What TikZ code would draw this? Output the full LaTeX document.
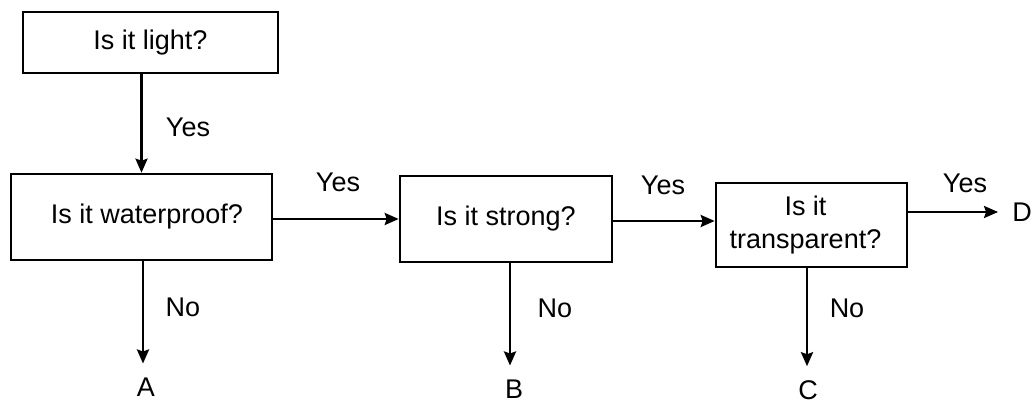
\documentclass[tikz,border=0pt]{standalone}
\usepackage{fontspec}
\setmainfont{Liberation Sans}
\usetikzlibrary{arrows.meta}

\tikzset{
  qbox/.style={draw, line width=2.6pt, align=center, inner sep=0pt},
  arr/.style={line width=2.6pt, -{Stealth[length=14pt,width=12pt,inset=2pt]}},
  outcome/.style={inner sep=14pt},
}

\begin{document}
\begin{tikzpicture}[x=1pt, y=-1pt, font=\fontsize{27}{33}\selectfont]
  %%%%% START %%%%%
  \useasboundingbox (0, 0) rectangle (1036, 403);

  % question boxes
  \node[qbox, minimum width=255pt, minimum height=61pt] (light) at (150.5, 42.5) {Is it light?};
  \node[qbox, minimum width=261pt, minimum height=86pt] (waterproof) at (141.5, 217) {\hspace{11pt}Is it waterproof?};
  \node[qbox, minimum width=212pt, minimum height=86pt] (strong) at (506, 219) {Is it strong?};
  \node[qbox, minimum width=191pt, minimum height=84pt] (transparent) at (811.5, 225) {\hspace*{-12pt}Is it\\\hspace*{-12pt}transparent?};

  % outcomes
  \node[outcome] (A) at (146, 387) {A};
  \node[outcome] (B) at (514, 389) {B};
  \node[outcome] (C) at (808, 390) {C};
  \node[outcome] (D) at (1022, 212) {D};

  % yes branch
  \draw[arr] (waterproof.north |- light.south) -- (waterproof.north);
  \node at (188, 127) {Yes};
  \draw[arr] (waterproof.east |- 0, 219) -- (strong.west |- 0, 219);
  \node at (338, 182) {Yes};
  \draw[arr] (strong.east |- 0, 221) -- (transparent.west |- 0, 221);
  \node at (663, 185) {Yes};
  \draw[arr] (transparent.east |- D.west) -- (D.west);
  \node at (965, 183) {Yes};

  % no branch
  \draw[arr] (waterproof.south -| 143, 0) -- (A.north -| 143, 0);
  \node at (183, 307) {No};
  \draw[arr] (strong.south -| 510, 0) -- (B.north -| 510, 0);
  \node at (555, 308) {No};
  \draw[arr] (transparent.south -| 807, 0) -- (C.north -| 807, 0);
  \node at (847, 308) {No};

  %%%%% END %%%%%
\end{tikzpicture}
\end{document}
